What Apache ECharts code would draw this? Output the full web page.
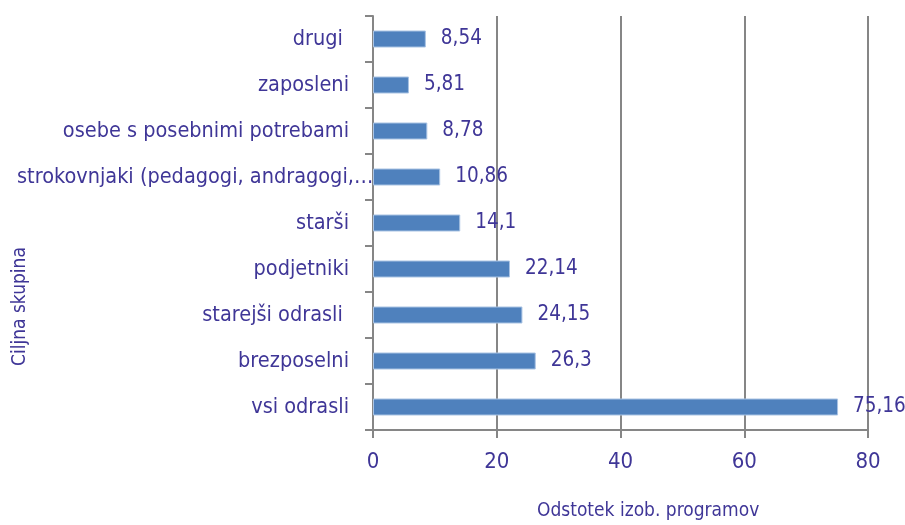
<!DOCTYPE html>
<html><head><meta charset="utf-8">
<script src="https://cdn.jsdelivr.net/npm/echarts@6/dist/echarts.min.js"></script>
<style>html,body{margin:0;padding:0;background:#fff}#c{width:905px;height:525px}</style>
</head><body><div id="c"></div>
<script>
var categories = ['vsi odrasli','brezposelni','starejši odrasli ','podjetniki','starši','strokovnjaki (pedagogi, andragogi,…','osebe s posebnimi potrebami','zaposleni','drugi '];
var values = [75.16, 26.3, 24.15, 22.14, 14.1, 10.86, 8.78, 5.81, 8.54];
var xTicks = [0, 20, 40, 60, 80];
var xTitle = 'Odstotek izob. programov';
var yTitle = 'Ciljna skupina';

var FONT = "'DejaVu Sans Condensed','Liberation Sans',sans-serif";
var TXT = '#3f3697';
var chart = echarts.init(document.getElementById('c'));
chart.setOption({
  animation: false,
  grid: {left: 373, right: 37, top: 16, bottom: 95, containLabel: false, outerBoundsMode: 'none'},
  xAxis: {
    type: 'value', min: xTicks[0], max: xTicks[xTicks.length-1], interval: 20,
    axisLine: {show: true, lineStyle: {color: '#868686', width: 2}},
    axisTick: {show: true, length: 8, lineStyle: {color: '#868686', width: 2}},
    splitLine: {show: true, lineStyle: {color: '#868686', width: 2}},
    axisLabel: {color: TXT, fontFamily: FONT, fontSize: 22, margin: 21}
  },
  yAxis: {
    type: 'category', data: categories,
    axisLine: {show: true, lineStyle: {color: '#868686', width: 2}},
    axisTick: {show: true, length: 8, alignWithLabel: false, lineStyle: {color: '#868686', width: 2}},
    axisLabel: {color: TXT, fontFamily: FONT, fontSize: 21.5, margin: 24,
      formatter: function(v){ return v.length > 30 ? '{s|' + v + '}' : v; },
      rich: {s: {width: 332, align: 'left', color: TXT, fontFamily: FONT, fontSize: 21.5}}}
  },
  series: [{
    type: 'bar', data: values, barWidth: 17,
    itemStyle: {color: '#4f81bd', borderColor: '#a9c3e3', borderWidth: 1},
    label: {show: true, position: 'right', distance: 15, color: TXT, fontFamily: FONT, fontSize: 20.5,
      formatter: function(p){ return String(p.value).replace('.', ','); }}
  }],
  graphic: [
    {type: 'text', left: 537, top: 502, style: {text: xTitle, fill: TXT, font: '19px ' + FONT}},
    {type: 'text', x: 11, y: 366, rotation: Math.PI/2, style: {text: yTitle, fill: TXT, font: '19px ' + FONT}}
  ]
});
</script></body></html>
